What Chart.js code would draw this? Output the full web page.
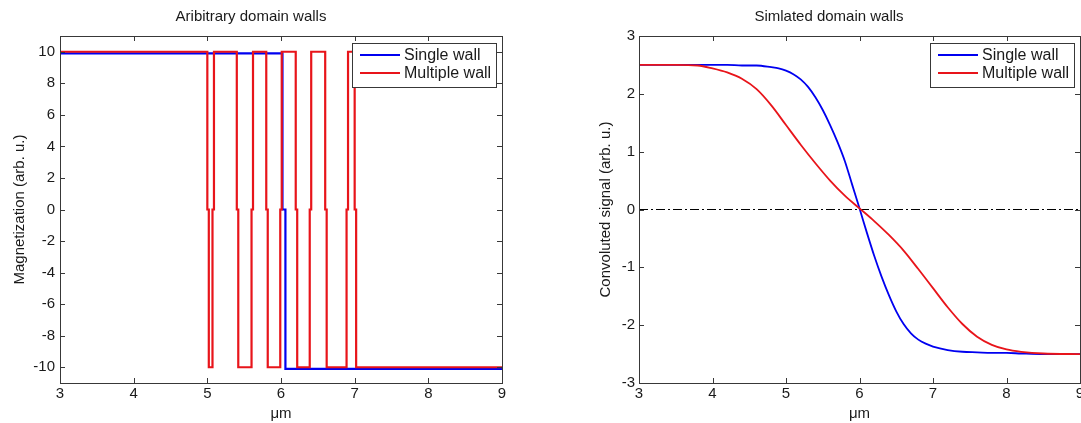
<!DOCTYPE html>
<html><head><meta charset="utf-8">
<script src="https://cdn.jsdelivr.net/npm/chart.js@4.4.1/dist/chart.umd.min.js"></script>
<style>
html,body{margin:0;padding:0;background:#fff;overflow:hidden;width:1081px;height:423px;}
#c1{position:absolute;left:0;top:0;}
#c2{position:absolute;left:578px;top:0;}
</style></head><body>
<canvas id="c1" width="540" height="423"></canvas>
<canvas id="c2" width="540" height="423"></canvas>
<script>
// ---- data ----
const xTicks = [3, 4, 5, 6, 7, 8, 9];
const magTicks = [-10, -8, -6, -4, -2, 0, 2, 4, 6, 8, 10];
const sigTicks = [-3, -2, -1, 0, 1, 2, 3];

const singleWallX = [3, 6.02, 6.06, 9];
const singleWallM = [9.9, 0, -10.1, -10.1];
const multiWallX = [3, 5.0, 5.02, 5.07, 5.09, 5.4, 5.42, 5.6, 5.62, 5.8, 5.82, 5.99, 6.01, 6.2, 6.22, 6.39, 6.41, 6.6, 6.62, 6.89, 6.91, 7.0, 7.02, 9];
const multiWallM = [10, 0, -10, 0, 10, 0, -10, 0, 10, 0, -10, 0, 10, 0, -10, 0, 10, 0, -10, 0, 10, 0, -10, -10];

const singleSigX = [3, 3.5, 4.0, 4.2, 4.4, 4.6, 4.8, 4.9, 5.0, 5.1, 5.2, 5.3, 5.4, 5.5, 5.6, 5.7, 5.8, 5.9, 6.0, 6.1, 6.2, 6.3, 6.4, 6.5, 6.6, 6.7, 6.8, 6.9, 7.0, 7.2, 7.4, 7.6, 7.8, 8.0, 8.2, 8.5, 9];
const singleSig = [2.5, 2.5, 2.5, 2.5, 2.49, 2.49, 2.46, 2.44, 2.40, 2.34, 2.25, 2.12, 1.94, 1.72, 1.46, 1.17, 0.84, 0.43, 0.02, -0.40, -0.80, -1.16, -1.48, -1.76, -1.98, -2.14, -2.25, -2.32, -2.37, -2.43, -2.46, -2.47, -2.48, -2.48, -2.49, -2.5, -2.5];
const multiSigX = [3, 3.5, 3.8, 4.0, 4.2, 4.4, 4.6, 4.8, 5.0, 5.2, 5.4, 5.6, 5.8, 6.0, 6.2, 6.4, 6.6, 6.8, 7.0, 7.2, 7.4, 7.6, 7.8, 8.0, 8.2, 8.5, 9];
const multiSig = [2.5, 2.5, 2.49, 2.44, 2.37, 2.26, 2.08, 1.80, 1.46, 1.12, 0.80, 0.50, 0.24, 0.02, -0.20, -0.44, -0.71, -1.03, -1.36, -1.69, -1.98, -2.20, -2.34, -2.42, -2.46, -2.49, -2.5];
const zeroX = [3, 9];
const zeroY = [0, 0];

const labels = ['Single wall', 'Multiple wall'];
const titles = ['Aribitrary domain walls', 'Simlated domain walls'];
const yTitles = ['Magnetization (arb. u.)', 'Convoluted signal (arb. u.)'];
const xTitle = '\u03bcm';

// ---- style ----
const FONT = '"Liberation Sans", Arial, Helvetica, sans-serif';
const BLUE = '#0000f0';
const RED = '#e8141a';
const FRAME = '#383838';
const TXT = '#1a1a1a';

const pts = (xs, ys) => xs.map((x, i) => ({x, y: ys[i]}));

const framePlugin = {
  id: 'frame',
  afterDatasetsDraw(chart) {
    const {ctx, chartArea: a, scales: {x, y}} = chart;
    const L = 5;
    ctx.save();
    ctx.strokeStyle = FRAME; ctx.lineWidth = 1;
    ctx.beginPath();
    x.ticks.forEach(t => {
      const px = Math.round(x.getPixelForValue(t.value)) + 0.5;
      ctx.moveTo(px, a.bottom); ctx.lineTo(px, a.bottom - L);
      ctx.moveTo(px, a.top); ctx.lineTo(px, a.top + L);
    });
    y.ticks.forEach(t => {
      const py = Math.round(y.getPixelForValue(t.value)) + 0.5;
      ctx.moveTo(a.left, py); ctx.lineTo(a.left + L, py);
      ctx.moveTo(a.right, py); ctx.lineTo(a.right - L, py);
    });
    ctx.stroke();
    ctx.strokeRect(Math.round(a.left) + 0.5, Math.round(a.top) + 0.5, Math.round(a.right - a.left), Math.round(a.bottom - a.top));
    ctx.restore();
  }
};

const legendPlugin = {
  id: 'boxLegend',
  afterDraw(chart) {
    const {ctx, chartArea: a} = chart;
    const items = chart.data.datasets.filter(d => d.label);
    ctx.save();
    ctx.font = '16px ' + FONT;
    const tw = Math.max(...items.map(d => ctx.measureText(d.label).width));
    const w = Math.round(8 + 40 + 4 + tw + 5);
    const h = 44;
    const right = Math.round(a.right) - 6;
    const left = right - w;
    const top = Math.round(a.top) + 7;
    ctx.fillStyle = '#fff';
    ctx.fillRect(left, top, w, h);
    ctx.strokeStyle = FRAME; ctx.lineWidth = 1;
    ctx.strokeRect(left + 0.5, top + 0.5, w, h);
    items.forEach((d, i) => {
      const cy = top + 12 + i * 18;
      ctx.strokeStyle = d.borderColor; ctx.lineWidth = 2;
      ctx.beginPath(); ctx.moveTo(left + 8, cy); ctx.lineTo(left + 48, cy); ctx.stroke();
      ctx.fillStyle = TXT; ctx.textBaseline = 'middle'; ctx.textAlign = 'left';
      ctx.fillText(d.label, left + 52, cy + 1);
    });
    ctx.restore();
  }
};

function makeOptions(idx, yMin, yMax, yTickVals, yWidth, yTitlePad, yTickPad) {
  return {
    responsive: false,
    animation: false,
    devicePixelRatio: 1,
    layout: {padding: {left: 0, right: 38, top: 0, bottom: 0}},
    plugins: {
      legend: {display: false},
      tooltip: {enabled: false},
      title: {display: true, text: titles[idx], color: TXT, font: {family: FONT, size: 15, weight: 'normal'}, padding: {top: 8, bottom: 10}}
    },
    scales: {
      x: {
        type: 'linear', min: 3, max: 9,
        grid: {display: false, drawTicks: false},
        border: {display: false},
        afterBuildTicks: s => { s.ticks = xTicks.map(v => ({value: v})); },
        afterFit: s => { s.height = 40; },
        ticks: {color: TXT, font: {family: FONT, size: 15}, padding: 2, maxRotation: 0, autoSkip: false},
        title: {display: true, text: xTitle, color: TXT, font: {family: FONT, size: 15}, padding: {top: 0, bottom: 0}}
      },
      y: {
        type: 'linear', min: yMin, max: yMax,
        grid: {display: false, drawTicks: false},
        border: {display: false},
        afterBuildTicks: s => { s.ticks = yTickVals.map(v => ({value: v})); },
        afterFit: s => { s.width = yWidth; },
        ticks: {color: TXT, font: {family: FONT, size: 15}, padding: yTickPad, autoSkip: false},
        title: {display: true, text: yTitles[idx], color: TXT, font: {family: FONT, size: 15}, padding: {top: yTitlePad, bottom: 0}}
      }
    }
  };
}

new Chart(document.getElementById('c1'), {
  type: 'line',
  data: {
    datasets: [
      {label: labels[0], data: pts(singleWallX, singleWallM), borderColor: BLUE, borderWidth: 2.2, pointRadius: 0, stepped: 'before', order: 2},
      {label: labels[1], data: pts(multiWallX, multiWallM), borderColor: RED, borderWidth: 2.2, pointRadius: 0, stepped: 'before', order: 1}
    ]
  },
  options: makeOptions(0, -11, 11, magTicks, 60, 11, 5),
  plugins: [framePlugin, legendPlugin]
});

new Chart(document.getElementById('c2'), {
  type: 'line',
  data: {
    datasets: [
      {label: labels[0], data: pts(singleSigX, singleSig), borderColor: BLUE, borderWidth: 1.8, pointRadius: 0, cubicInterpolationMode: 'monotone', order: 2},
      {label: labels[1], data: pts(multiSigX, multiSig), borderColor: RED, borderWidth: 1.8, pointRadius: 0, cubicInterpolationMode: 'monotone', order: 1},
      {label: '', data: pts(zeroX, zeroY), borderColor: '#000', borderWidth: 1, borderDash: [9, 3, 2, 3], pointRadius: 0, order: 3}
    ]
  },
  options: makeOptions(1, -3, 3, sigTicks, 61, 19, 4),
  plugins: [framePlugin, legendPlugin]
});
</script>
</body></html>
